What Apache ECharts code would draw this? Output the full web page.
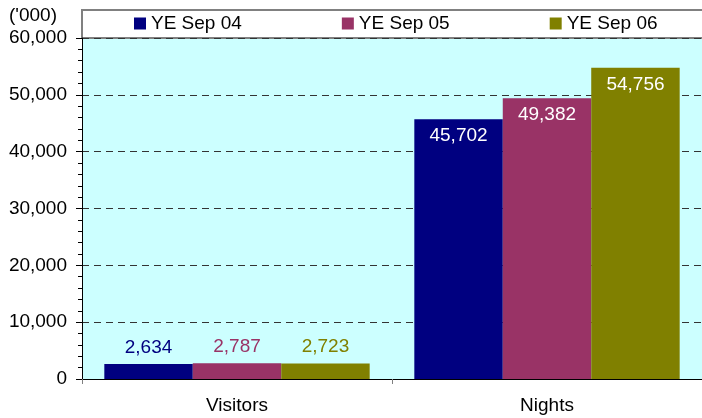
<!DOCTYPE html>
<html><head><meta charset="utf-8">
<script src="https://cdn.jsdelivr.net/npm/echarts@6/dist/echarts.min.js"></script>
<style>html,body{margin:0;padding:0;background:#fff}#c{width:702px;height:418px}</style>
</head><body><div id="c"></div>
<script>
const categories = ['Visitors', 'Nights'];
const seriesNames = ['YE Sep 04', 'YE Sep 05', 'YE Sep 06'];
const ye04 = [2634, 45702];
const ye05 = [2787, 49382];
const ye06 = [2723, 54756];
const colors = ['#000080', '#993366', '#808000'];
const font = 'Liberation Sans, Arial, sans-serif';
const FS = 19;
const chart = echarts.init(document.getElementById('c'));
const data = [ye04, ye05, ye06];
chart.setOption({
  animation: false,
  textStyle: {fontFamily: font},
  graphic: [
    {type: 'rect', shape: {x: 82, y: 10, width: 640, height: 28}, style: {fill: '#fff', stroke: '#808080', lineWidth: 2}, z: 0},
    {type: 'text', left: 9, top: 6, style: {text: "('000)", font: FS + 'px ' + font, fill: '#000'}}
  ],
  legend: {
    left: 134, top: 14, itemWidth: 12, itemHeight: 12, itemGap: 100, padding: 0,
    icon: 'rect',
    textStyle: {fontSize: FS, color: '#000', fontFamily: font},
    data: seriesNames
  },
  grid: {left: 82, right: -6, top: 38, bottom: 39, containLabel: false, show: true, backgroundColor: '#CCFFFF', borderWidth: 0},
  xAxis: {
    type: 'category', data: categories,
    axisLine: {lineStyle: {color: '#000', width: 1}},
    axisTick: {show: true, length: 5, lineStyle: {color: '#808080'}},
    axisLabel: {fontSize: FS, color: '#000', margin: 17, fontFamily: font}
  },
  yAxis: {
    type: 'value', min: 0, max: 60000, interval: 10000,
    axisLine: {show: true, lineStyle: {color: '#000'}},
    axisTick: {show: true, length: 6, lineStyle: {color: '#000'}},
    minorTick: {show: true, splitNumber: 5, length: 4, lineStyle: {color: '#000'}},
    splitLine: {show: true, lineStyle: {color: '#333', type: [7, 5], width: 1}},
    axisLabel: {fontSize: FS, color: '#000', margin: 15, fontFamily: font,
      formatter: v => v.toLocaleString('en-US')}
  },
  series: data.map((d, i) => ({
    name: seriesNames[i], type: 'bar', barGap: '0%', barCategoryGap: '14.4%',
    itemStyle: {color: colors[i]},
    data: d.map((v, j) => ({
      value: v,
      label: j === 0
        ? {show: true, position: 'top', distance: 7, color: colors[i], fontSize: FS, fontFamily: font}
        : {show: true, position: 'insideTop', distance: 7, color: '#fff', fontSize: FS, fontFamily: font}
    })),
    label: {formatter: p => p.value.toLocaleString('en-US')}
  }))
});
</script></body></html>
